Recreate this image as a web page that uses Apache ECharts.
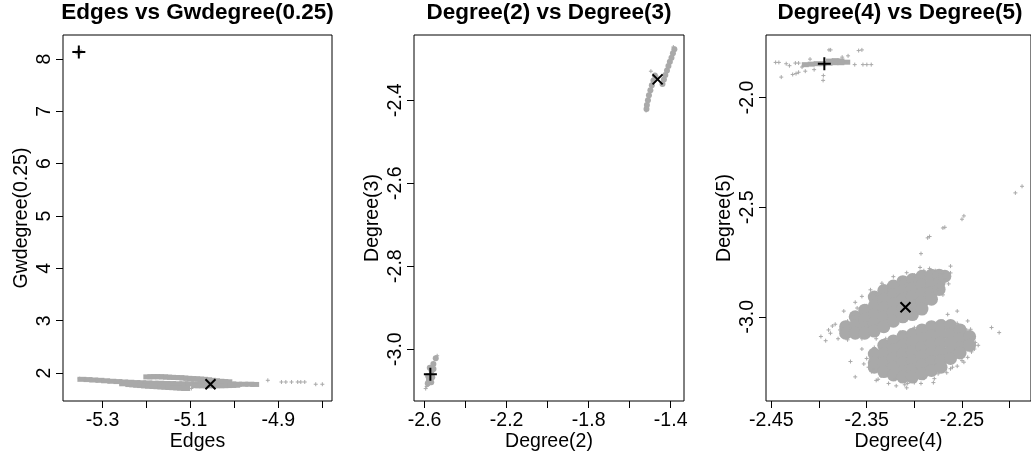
<!DOCTYPE html>
<html><head><meta charset="utf-8">
<script src="https://cdn.jsdelivr.net/npm/echarts@6/dist/echarts.min.js"></script>
<style>html,body{margin:0;padding:0;background:#fff}#c{width:1031px;height:457px}</style>
</head><body><div id="c"></div>
<script>
// ---------- titles / axis names ----------
const panelTitles = ['Edges vs Gwdegree(0.25)', 'Degree(2) vs Degree(3)', 'Degree(4) vs Degree(5)'];
const xNames = ['Edges', 'Degree(2)', 'Degree(4)'];
const yNames = ['Gwdegree(0.25)', 'Degree(3)', 'Degree(5)'];

// ---------- axis ranges & ticks ----------
const p1XRange = [-5.390, -4.778];
const p1YRange = [1.467, 8.458];
const p1XTicks = [-5.3, -5.2, -5.1, -5.0, -4.9, -4.8];
const p1XLabels = [-5.3, -5.1, -4.9];
const p1YTicks = [2, 3, 4, 5, 6, 7, 8];

const p2XRange = [-2.652, -1.335];
const p2YRange = [-3.125, -2.243];
const p2XTicks = [-2.6, -2.4, -2.2, -2.0, -1.8, -1.6, -1.4];
const p2XLabels = [-2.6, -2.2, -1.8, -1.4];
const p2YTicks = [-3.0, -2.8, -2.6, -2.4];

const p3XRange = [-2.4556, -2.1776];
const p3YRange = [-3.384, -1.715];
const p3XTicks = [-2.45, -2.40, -2.35, -2.30, -2.25, -2.20];
const p3XLabels = [-2.45, -2.35, -2.25];
const p3YTicks = [-3.0, -2.5, -2.0];

// ---------- panel 1 : Edges vs Gwdegree(0.25) ----------
const p1Core = [
  [-5.347,1.881],[-5.333,1.876],[-5.320,1.868],[-5.306,1.862],[-5.293,1.853],[-5.279,1.844],
  [-5.265,1.838],[-5.252,1.830],[-5.238,1.825],[-5.224,1.819],[-5.211,1.815],[-5.197,1.812],
  [-5.183,1.806],[-5.170,1.806],[-5.156,1.802],[-5.143,1.800],[-5.129,1.796],[-5.115,1.796],
  [-5.102,1.796],[-5.088,1.796],[-5.074,1.800],[-5.061,1.800],[-5.047,1.796],[-5.033,1.796],
  [-5.020,1.793],[-5.006,1.793],[-4.993,1.787],[-4.979,1.787],[-4.965,1.787],[-4.954,1.783],
  [-5.252,1.796],[-5.238,1.781],[-5.229,1.775],[-5.220,1.768],[-5.211,1.762],[-5.202,1.755],
  [-5.193,1.750],[-5.183,1.744],[-5.174,1.740],[-5.165,1.736],[-5.156,1.731],[-5.147,1.725],
  [-5.138,1.721],[-5.129,1.717],[-5.120,1.712],[-5.111,1.706],
  [-5.197,1.928],[-5.188,1.930],[-5.179,1.932],[-5.170,1.930],[-5.161,1.928],[-5.152,1.923],
  [-5.143,1.919],[-5.134,1.916],[-5.124,1.913],[-5.115,1.906],[-5.106,1.900],[-5.097,1.895],
  [-5.088,1.891],[-5.079,1.886],[-5.070,1.881],[-5.061,1.872],[-5.052,1.862],[-5.043,1.853],
  [-5.033,1.844],[-5.024,1.838],[-5.015,1.834],
  [-5.088,1.759],[-5.079,1.759],[-5.070,1.759],[-5.061,1.759],[-5.052,1.759],[-5.043,1.759],
  [-5.033,1.759],[-5.024,1.760],[-5.015,1.762],[-5.006,1.765],[-4.997,1.768]
];
const p1Fringe = [
  [-4.924,1.862],[-4.893,1.830],[-4.883,1.830],[-4.870,1.830],[-4.856,1.830],[-4.849,1.830],
  [-4.840,1.830],[-4.815,1.787],[-4.800,1.787],[-5.098,1.706],[-5.352,1.893],[-5.340,1.870],
  [-5.357,8.145],[-5.351,8.120],[-5.349,8.150],[-5.358,8.112]
];
const p1Plus = [[-5.354, 8.131]];
const p1Cross = [[-5.0545, 1.787]];

// ---------- panel 2 : Degree(2) vs Degree(3) ----------
const p2Core = [
  [-1.382,-2.2775],[-1.389,-2.2870],[-1.396,-2.2977],[-1.404,-2.3073],[-1.411,-2.3180],
  [-1.418,-2.3287],[-1.426,-2.3394],[-1.433,-2.3501],[-1.440,-2.3608],
  [-1.477,-2.3405],[-1.484,-2.3524],[-1.492,-2.3643],[-1.499,-2.3762],[-1.506,-2.3881],
  [-1.511,-2.4000],[-1.516,-2.4119],[-1.518,-2.4214],
  [-2.546,-3.022],[-2.5575,-3.036],[-2.566,-3.052],[-2.573,-3.064],[-2.579,-3.071],
  [-2.585,-3.083],[-2.575,-3.045],[-2.557,-3.048],[-2.583,-3.065],[-2.563,-3.068],
  [-2.580,-3.078],[-2.568,-3.080]
];
const p2Fringe = [
  [-2.595,-3.095],[-2.539,-3.016],[-2.590,-3.090],[-1.4965,-2.3303],[-1.462,-2.345],
  [-1.387,-2.272],[-1.520,-2.425]
];
const p2Plus = [[-2.5722, -3.0606]];
const p2Cross = [[-1.4638, -2.350]];

// ---------- panel 3 : Degree(4) vs Degree(5) ----------
const p3TopCore = [
  [-2.4144,-1.8503],[-2.4082,-1.8480],[-2.4020,-1.8458],[-2.3957,-1.8458],[-2.3895,-1.8435],
  [-2.3833,-1.8413],[-2.3771,-1.8413],[-2.3709,-1.8390],[-2.389,-1.834],[-2.383,-1.832],[-2.377,-1.833]
];
const p3CloudCore = [
  [-2.372,-3.045],[-2.372,-3.075],
  [-2.362,-3.00],[-2.362,-3.04],[-2.362,-3.075],
  [-2.352,-2.97],[-2.352,-3.01],[-2.352,-3.05],[-2.352,-3.075],
  [-2.342,-2.91],[-2.342,-2.95],[-2.342,-2.99],[-2.342,-3.03],[-2.342,-3.065],
  [-2.332,-2.88],[-2.332,-2.92],[-2.332,-2.96],[-2.332,-3.00],[-2.332,-3.045],
  [-2.322,-2.86],[-2.322,-2.90],[-2.322,-2.94],[-2.322,-2.98],[-2.322,-3.02],
  [-2.312,-2.84],[-2.312,-2.88],[-2.312,-2.92],[-2.312,-2.96],[-2.312,-3.00],
  [-2.302,-2.83],[-2.302,-2.87],[-2.302,-2.91],[-2.302,-2.95],[-2.302,-2.99],
  [-2.292,-2.815],[-2.292,-2.855],[-2.292,-2.895],[-2.292,-2.935],[-2.292,-2.965],
  [-2.282,-2.81],[-2.282,-2.85],[-2.282,-2.89],[-2.282,-2.92],
  [-2.274,-2.81],[-2.274,-2.845],[-2.274,-2.875],
  [-2.268,-2.815],
  [-2.342,-3.17],[-2.342,-3.21],[-2.342,-3.23],
  [-2.332,-3.13],[-2.332,-3.17],[-2.332,-3.21],[-2.332,-3.25],
  [-2.322,-3.11],[-2.322,-3.15],[-2.322,-3.19],[-2.322,-3.23],[-2.322,-3.265],
  [-2.312,-3.09],[-2.312,-3.13],[-2.312,-3.17],[-2.312,-3.21],[-2.312,-3.25],[-2.312,-3.275],
  [-2.302,-3.08],[-2.302,-3.12],[-2.302,-3.16],[-2.302,-3.20],[-2.302,-3.24],[-2.302,-3.275],
  [-2.292,-3.06],[-2.292,-3.10],[-2.292,-3.14],[-2.292,-3.18],[-2.292,-3.22],[-2.292,-3.26],
  [-2.282,-3.045],[-2.282,-3.085],[-2.282,-3.125],[-2.282,-3.165],[-2.282,-3.205],[-2.282,-3.245],
  [-2.272,-3.04],[-2.272,-3.08],[-2.272,-3.12],[-2.272,-3.16],[-2.272,-3.20],[-2.272,-3.23],
  [-2.262,-3.04],[-2.262,-3.08],[-2.262,-3.12],[-2.262,-3.16],[-2.262,-3.19],
  [-2.252,-3.06],[-2.252,-3.10],[-2.252,-3.14],[-2.252,-3.165],
  [-2.242,-3.09],[-2.242,-3.13]
];
const p3Fringe = [
  [-2.4455,-1.840],[-2.4421,-1.840],[-2.4344,-1.846],[-2.4248,-1.843],[-2.4214,-1.843],
  [-2.4178,-1.861],[-2.4396,-1.907],[-2.4276,-1.895],[-2.4241,-1.891],[-2.4214,-1.885],
  [-2.4144,-1.880],[-2.4094,-1.825],[-2.3895,-1.783],[-2.3878,-1.783],[-2.3757,-1.816],
  [-2.3695,-1.810],[-2.3584,-1.786],[-2.3550,-1.783],[-2.3625,-1.850],[-2.3539,-1.850],
  [-2.3498,-1.850],[-2.3452,-1.850],[-2.3954,-1.900],[-2.3957,-1.922],[-2.4051,-1.873],
  [-2.4310,-1.855],
  [-2.398,-3.090],[-2.393,-3.109],[-2.386,-3.042],[-2.383,-3.034],[-2.374,-2.974],
  [-2.362,-2.934],[-2.355,-2.907],[-2.346,-2.877],[-2.334,-2.847],[-2.322,-2.817],
  [-2.308,-2.799],[-2.294,-2.775],[-2.284,-2.780],[-2.270,-2.805],[-2.262,-2.769],
  [-2.268,-2.829],[-2.275,-2.877],[-2.367,-3.204],[-2.362,-3.274],[-2.355,-3.147],
  [-2.343,-3.237],[-2.327,-3.304],[-2.319,-3.315],[-2.308,-3.324],[-2.307,-3.304],
  [-2.293,-3.304],[-2.279,-3.282],[-2.262,-3.237],[-2.248,-3.207],[-2.237,-3.147],
  [-2.236,-3.117],[-2.241,-3.057],[-2.244,-3.019],[-2.255,-2.974],[-2.265,-2.989],
  [-2.219,-3.049],[-2.211,-3.072],[-2.293,-2.712],[-2.286,-2.640],[-2.284,-2.634],
  [-2.270,-2.595],[-2.268,-2.592],[-2.250,-2.555],[-2.248,-2.540],[-2.194,-2.435],
  [-2.187,-2.405],
  [-2.378,-3.06],[-2.370,-3.02],[-2.365,-2.99],[-2.350,-2.95],[-2.340,-2.90],[-2.328,-2.86],
  [-2.315,-2.83],[-2.300,-2.81],[-2.290,-2.79],[-2.278,-2.79],[-2.262,-2.80],[-2.264,-2.85],
  [-2.270,-2.90],[-2.380,-3.10],[-2.370,-3.105],[-2.355,-3.10],[-2.340,-3.10],[-2.388,-3.075],
  [-2.390,-3.06],[-2.360,-2.96],
  [-2.350,-3.19],[-2.348,-3.23],[-2.345,-3.25],[-2.335,-3.27],[-2.320,-3.285],[-2.305,-3.29],
  [-2.290,-3.28],[-2.275,-3.26],[-2.260,-3.23],[-2.250,-3.20],[-2.240,-3.16],[-2.238,-3.10],
  [-2.245,-3.06],[-2.255,-3.03],[-2.270,-3.02],[-2.285,-3.03],[-2.300,-3.05],[-2.315,-3.07],
  [-2.330,-3.10],[-2.342,-3.14],[-2.233,-3.13],[-2.280,-3.30],[-2.310,-3.31],[-2.340,-3.29],
  [-2.353,-3.215],[-2.338,-3.285],[-2.300,-3.300],[-2.266,-3.255],[-2.255,-3.225],[-2.244,-3.185]
];
const p3Plus = [[-2.3944, -1.8458]];
const p3Cross = [[-2.3093, -2.9564]];

// ---------- build options ----------
const FONT = 'Liberation Sans, Arial, sans-serif';
const GRAY = '#a9a9a9';
const PLUS = 'path://M0,-1L0,1M-1,0L1,0';
const CROSS = 'path://M-1,-1L1,1M-1,1L1,-1';

const grids = [
  {left: 63, top: 35, width: 269, height: 371},
  {left: 414, top: 35, width: 270, height: 371},
  {left: 766, top: 35, width: 268, height: 371}
].map(g => Object.assign(g, {show: true, borderColor: '#000', borderWidth: 1, backgroundColor: '#fff', containLabel: false}));

function xAxis(i, range, ticks, labels, dec) {
  return {
    type: 'value', gridIndex: i, min: range[0], max: range[1],
    name: xNames[i], nameLocation: 'middle', nameGap: 31, nameMoveOverlap: false,
    nameTextStyle: {fontFamily: FONT, fontSize: 19.5, color: '#000'},
    axisLine: {show: false},
    axisTick: {show: true, inside: false, length: 7, customValues: ticks, lineStyle: {color: '#000', width: 1}},
    axisLabel: {show: true, customValues: labels, margin: 10, fontFamily: FONT, fontSize: 19.5, color: '#000',
      hideOverlap: false, formatter: v => Number(v).toFixed(dec)},
    splitLine: {show: false}
  };
}
function yAxis(i, range, ticks, dec) {
  return {
    type: 'value', gridIndex: i, min: range[0], max: range[1],
    name: yNames[i], nameLocation: 'middle', nameGap: 31, nameRotate: 90, nameMoveOverlap: false,
    nameTextStyle: {fontFamily: FONT, fontSize: 19.5, color: '#000'},
    axisLine: {show: false},
    axisTick: {show: true, inside: false, length: 7, customValues: ticks, lineStyle: {color: '#000', width: 1}},
    axisLabel: {show: true, customValues: ticks, rotate: 90, margin: 8, fontFamily: FONT, fontSize: 19.5, color: '#000',
      hideOverlap: false, formatter: v => Number(v).toFixed(dec)},
    splitLine: {show: false}
  };
}

function core(i, data, symbol, size) {
  return {type: 'scatter', xAxisIndex: i, yAxisIndex: i, data: data, symbol: symbol, symbolSize: size,
    itemStyle: {color: GRAY, opacity: 1}, silent: true, z: 2};
}
function fringe(i, data) {
  return {type: 'scatter', xAxisIndex: i, yAxisIndex: i, data: data, symbol: PLUS, symbolSize: 4,
    itemStyle: {color: GRAY, borderColor: GRAY, borderWidth: 1, opacity: 1}, silent: true, z: 3};
}
function marker(i, data, symbol, size) {
  return {type: 'scatter', xAxisIndex: i, yAxisIndex: i, data: data, symbol: symbol, symbolSize: size,
    itemStyle: {color: '#000', borderColor: '#000', borderWidth: 2, opacity: 1}, silent: true, z: 5};
}

const centers = [197.5, 549, 900];
const option = {
  animation: false,
  backgroundColor: '#fff',
  title: panelTitles.map((t, i) => ({
    text: t, left: centers[i], top: 1, textAlign: 'center', padding: 0,
    textStyle: {fontFamily: FONT, fontSize: 22.5, fontWeight: 'bold', color: '#000'}
  })),
  grid: grids,
  xAxis: [
    xAxis(0, p1XRange, p1XTicks, p1XLabels, 1),
    xAxis(1, p2XRange, p2XTicks, p2XLabels, 1),
    xAxis(2, p3XRange, p3XTicks, p3XLabels, 2)
  ],
  yAxis: [
    yAxis(0, p1YRange, p1YTicks, 0),
    yAxis(1, p2YRange, p2YTicks, 1),
    yAxis(2, p3YRange, p3YTicks, 1)
  ],
  series: [
    core(0, p1Core, 'rect', [9, 5]), fringe(0, p1Fringe), marker(0, p1Plus, PLUS, 13), marker(0, p1Cross, CROSS, 10),
    core(1, p2Core, 'circle', 6), fringe(1, p2Fringe), marker(1, p2Plus, PLUS, 13), marker(1, p2Cross, CROSS, 10),
    core(2, p3TopCore, 'rect', [7, 5]), core(2, p3CloudCore, 'circle', 13), fringe(2, p3Fringe),
    marker(2, p3Plus, PLUS, 13), marker(2, p3Cross, CROSS, 10)
  ]
};
const chart = echarts.init(document.getElementById('c'), null, {renderer: 'canvas'});
chart.setOption(option);
</script>
</body></html>
